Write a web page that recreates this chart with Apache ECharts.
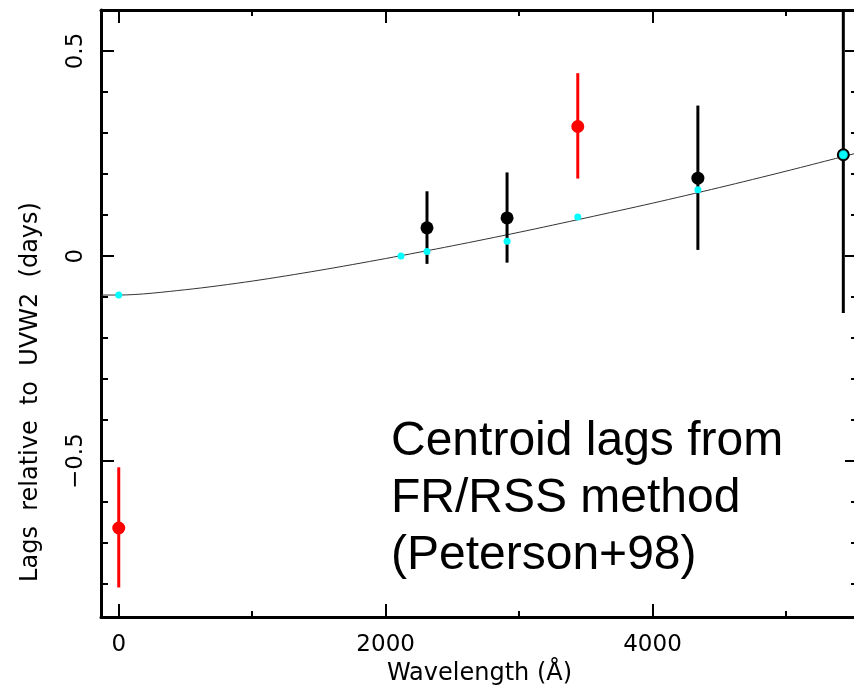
<!DOCTYPE html>
<html>
<head>
<meta charset="utf-8">
<script src="https://cdn.jsdelivr.net/npm/echarts@6/dist/echarts.min.js"></script>
<style>
  html, body { margin: 0; padding: 0; background: #ffffff; }
  #chart { width: 854px; height: 691px; }
</style>
</head>
<body>
<div id="chart"></div>
<script>
// ---- Data ----
const bands    = ['X', 'UVM2', 'UVW1', 'U', 'B', 'V'];
const waves    = [0, 2310, 2910, 3440, 4340, 5430];
const lags     = [-0.663, 0.069, 0.093, 0.316, 0.190, 0.247];
const lagLo    = [-0.808, -0.019, -0.016, 0.189, 0.015, -0.139];
const lagHi    = [-0.515, 0.158, 0.204, 0.446, 0.367, 0.633];

const modelWaves = [0, 2115, 2310, 2910, 3440, 4340, 5430];
const modelLags  = [-0.095, 0.000, 0.011, 0.036, 0.095, 0.162, 0.247];

const curveWaves = [-133, 0, 500, 1000, 1500, 2000, 2500, 3000, 3500, 4000, 4500, 5000, 5540];
const curveLags  = [-0.095, -0.095, -0.082, -0.061, -0.035, -0.006, 0.025, 0.058, 0.093, 0.129, 0.167, 0.207, 0.252];

const xMajorTicks = [0, 2000, 4000];
const xMinorTicks = [1000, 3000, 5000];
const yMajorTicks = [-0.5, 0, 0.5];
const yMinorTicks = [-0.8, -0.7, -0.6, -0.4, -0.3, -0.2, -0.1, 0.1, 0.2, 0.3, 0.4];

// ---- Styles ----
const bandColor = { X: '#ff0000', UVM2: '#000000', UVW1: '#000000', U: '#ff0000', B: '#000000', V: '#000000' };
const X_MIN = -133, X_MAX = 5540, Y_MIN = -0.88, Y_MAX = 0.6;
const tickFont = 'DejaVu Sans';

function fmt(v) {
  if (v < 0) return '\u2212' + String(Math.abs(v));
  return String(v);
}

function makeAxis(dim, position, ticks, len, withLabels, showLine) {
  const ax = {
    type: 'value', position: position,
    min: dim === 'x' ? X_MIN : Y_MIN,
    max: dim === 'x' ? X_MAX : Y_MAX,
    axisLine: { show: showLine, onZero: false, lineStyle: { color: '#000', width: 3 } },
    axisTick: { show: true, inside: true, length: len, customValues: ticks, lineStyle: { color: '#000', width: 2 } },
    axisLabel: { show: false },
    splitLine: { show: false },
    minorTick: { show: false }
  };
  if (withLabels) {
    ax.axisLabel = {
      show: true, customValues: ticks, formatter: fmt,
      fontFamily: tickFont, fontSize: 23, color: '#000',
      margin: dim === 'x' ? 17 : 13,
      rotate: dim === 'x' ? 0 : 90
    };
  }
  return ax;
}

const xAxes = [
  makeAxis('x', 'bottom', xMajorTicks, 13, true, true),
  makeAxis('x', 'bottom', xMinorTicks, 6, false, false),
  makeAxis('x', 'top', xMajorTicks, 13, false, true),
  makeAxis('x', 'top', xMinorTicks, 6, false, false)
];
xAxes[0].name = 'Wavelength (\u00C5)';
xAxes[0].nameLocation = 'middle';
xAxes[0].nameGap = 40;
xAxes[0].nameTextStyle = { fontFamily: tickFont, fontSize: 24, color: '#000' };

const yAxes = [
  makeAxis('y', 'left', yMajorTicks, 13, true, true),
  makeAxis('y', 'left', yMinorTicks, 7, false, false),
  makeAxis('y', 'right', yMajorTicks, 13, false, true),
  makeAxis('y', 'right', yMinorTicks, 7, false, false)
];

const chart = echarts.init(document.getElementById('chart'), null, { renderer: 'canvas' });

chart.setOption({
  backgroundColor: '#ffffff',
  animation: false,
  grid: { left: 101, top: 10, width: 757, height: 607, containLabel: false, outerBoundsMode: 'none' },
  xAxis: xAxes,
  yAxis: yAxes,
  graphic: [
    {
      type: 'text', x: 31, y: 392, rotation: Math.PI / 2,
      style: {
        text: 'Lags  relative  to  UVW2  (days)',
        fontFamily: tickFont, fontSize: 24, fill: '#000',
        textAlign: 'center', textVerticalAlign: 'middle'
      }
    },
    {
      type: 'text', x: 391, y: 413,
      style: {
        text: 'Centroid lags from\nFR/RSS method\n(Peterson+98)',
        fontFamily: 'Liberation Sans, Arial, sans-serif', fontSize: 48, lineHeight: 57,
        fill: '#000', textAlign: 'left', textVerticalAlign: 'top'
      }
    }
  ],
  series: [
    {
      name: 'model curve', type: 'line', xAxisIndex: 0, yAxisIndex: 0,
      data: curveWaves.map((w, i) => [w, curveLags[i]]),
      smooth: 0.3, showSymbol: false, symbol: 'none',
      lineStyle: { color: '#333333', width: 1 }, z: 2, silent: true
    },
    {
      name: 'error bars', type: 'custom', xAxisIndex: 0, yAxisIndex: 0,
      data: waves.map((w, i) => [w, lagLo[i], lagHi[i], i]),
      encode: { x: 0, y: [1, 2] },
      clip: true, z: 3,
      renderItem: function (params, api) {
        const x = api.value(0);
        const p1 = api.coord([x, api.value(1)]);
        const p2 = api.coord([x, api.value(2)]);
        const idx = api.value(3);
        return {
          type: 'line',
          shape: { x1: p1[0], y1: p1[1], x2: p2[0], y2: p2[1] },
          style: { stroke: bandColor[bands[idx]], lineWidth: 3 }
        };
      }
    },
    {
      name: 'lags', type: 'scatter', xAxisIndex: 0, yAxisIndex: 0, z: 4,
      data: waves.map((w, i) => {
        const b = bands[i];
        if (b === 'V') {
          return { value: [w, lags[i]], symbolSize: 11, itemStyle: { color: '#00e0e0', borderColor: '#000', borderWidth: 2, opacity: 1 } };
        }
        return { value: [w, lags[i]], symbolSize: 13, itemStyle: { color: bandColor[b], opacity: 1 } };
      })
    },
    {
      name: 'model', type: 'scatter', xAxisIndex: 0, yAxisIndex: 0, z: 5,
      data: modelWaves.map((w, i) => [w, modelLags[i]]),
      symbolSize: 7, itemStyle: { color: '#00ffff', opacity: 1 }
    }
  ]
});
</script>
</body>
</html>
